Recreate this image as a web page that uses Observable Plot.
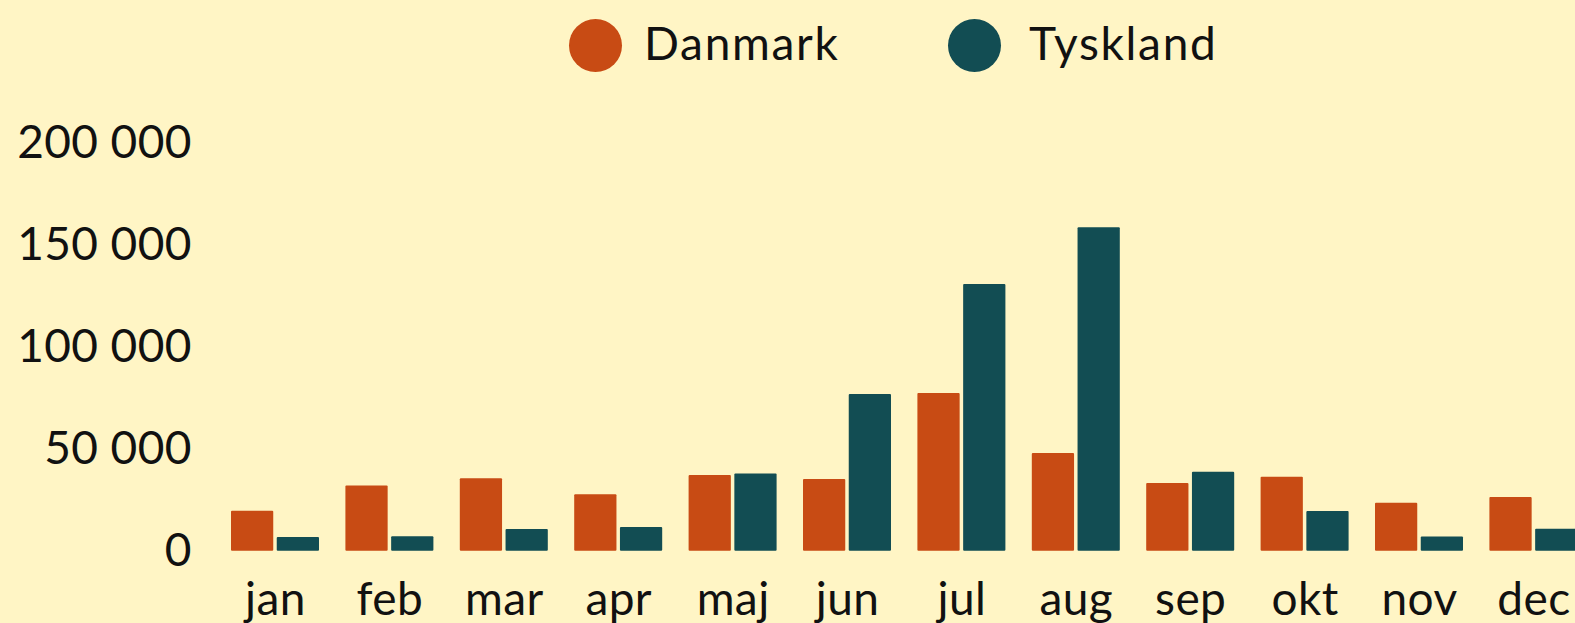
<!DOCTYPE html>
<html>
<head>
<meta charset="utf-8">
<script src="https://cdn.jsdelivr.net/npm/d3@7"></script>
<script src="https://cdn.jsdelivr.net/npm/@observablehq/plot@0.6"></script>
<style>
  html, body { margin: 0; padding: 0; background: #FFF5C5; overflow: hidden; }
  #wrap { width: 1575px; height: 623px; position: relative; background: #FFF5C5; font-family: Lato, "Noto Sans", sans-serif; color: #111; }
  #legend { position: relative; height: 85px; }
  .item { position: absolute; top: 19px; display: flex; align-items: center; height: 52px; font-size: 46px; }
  .sw { width: 53px; height: 53px; border-radius: 50%; flex: none; }
  .lbl { line-height: 52px; position: relative; top: -2px; letter-spacing: 1.7px; }
</style>
</head>
<body>
<div id="wrap">
  <div id="legend"></div>
  <div id="chart"></div>
</div>
<script>
const months = ["jan","feb","mar","apr","maj","jun","jul","aug","sep","okt","nov","dec"];
const series = ["Danmark", "Tyskland"];
const colors = ["#C84B14", "#124D53"];
const danmark  = [19600, 31900, 35500, 27700, 37100, 35200, 77300, 47900, 33200, 36300, 23500, 26300];
const tyskland = [6700, 7100, 10600, 11600, 37800, 76800, 130700, 158500, 38700, 19500, 6900, 10700];
const yTicks = [0, 50000, 100000, 150000, 200000];

const values = [danmark, tyskland];
const data = [];
months.forEach((m, i) => series.forEach((s, j) => data.push({month: m, country: s, value: values[j][i]})));

const fmt = d3.formatLocale({decimal: ",", thousands: " ", grouping: [3], currency: ["", " kr"]}).format(",d");

// legend
const legendLeft = [569, 948];
const legendGap = [22, 28];
const legend = document.getElementById("legend");
series.forEach((s, j) => {
  const it = document.createElement("div");
  it.className = "item";
  it.style.left = legendLeft[j] + "px";
  const sw = document.createElement("div");
  sw.className = "sw";
  sw.style.background = colors[j];
  sw.style.marginRight = legendGap[j] + "px";
  const t = document.createElement("span");
  t.className = "lbl";
  t.textContent = s;
  it.appendChild(sw); it.appendChild(t);
  legend.appendChild(it);
});

const chart = Plot.plot({
  width: 1575,
  height: 538,
  marginLeft: 231,
  marginRight: -2.4,
  marginTop: 57.7,
  marginBottom: 72.3,
  style: {background: "#FFF5C5", fontFamily: "Lato, 'Noto Sans', sans-serif", fontSize: "46px", color: "#111", overflow: "visible", letterSpacing: "0.4px"},
  fx: {domain: months, paddingInner: 0.2308, paddingOuter: 0, round: false, label: null, tickSize: 0, tickPadding: 31.6, axis: "bottom"},
  x: {domain: series, paddingInner: 0.0765, paddingOuter: 0, round: false, axis: null},
  y: {domain: [0, 200000], ticks: yTicks, tickFormat: fmt, label: null, tickSize: 0, tickPadding: 39.7},
  color: {domain: series, range: colors},
  marks: [
    Plot.barY(data, {fx: "month", x: "country", y: "value", fill: "country", rx: 1})
  ]
});
document.getElementById("chart").appendChild(chart);
</script>
</body>
</html>
